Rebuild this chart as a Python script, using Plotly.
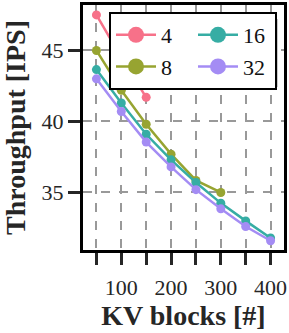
import plotly.graph_objects as go

kv_blocks = [50, 100, 150, 200, 250, 300, 350, 400]
series_names = ["4", "8", "16", "32"]
tput_4 = [47.5, 44.5, 41.7]
tput_8 = [45.0, 42.2, 39.8, 37.7, 35.85, 35.0]
tput_16 = [43.65, 41.3, 39.1, 37.3, 35.7, 34.25, 33.0, 31.8]
tput_32 = [43.0, 40.7, 38.55, 36.8, 35.2, 33.85, 32.6, 31.6]
colors = ["#f77189", "#97a431", "#36ada4", "#a48cf4"]
x_tickvals = [50, 100, 150, 200, 250, 300, 350, 400]
x_ticktext = ["", "100", "", "200", "", "300", "", "400"]
y_tickvals = [35, 40, 45]

FONT = "Liberation Serif"
series = [tput_4, tput_8, tput_16, tput_32]
legend_rank = {"4": 1, "16": 2, "8": 3, "32": 4}

fig = go.Figure()
for name, ys, c in zip(series_names, series, colors):
    fig.add_trace(go.Scatter(
        x=kv_blocks[:len(ys)], y=ys, mode="lines+markers", name=name,
        line=dict(color=c, width=2.5), marker=dict(color=c, size=9),
        showlegend=False))
for name, c in zip(series_names, colors):
    fig.add_trace(go.Scatter(
        x=[None], y=[None], mode="lines+markers", name=name,
        line=dict(color=c, width=2.5), marker=dict(color=c, size=17),
        legendrank=legend_rank[name], showlegend=True))

W, H = 289, 333
L, R, T, B = 83, 5, 5, 83
pw, ph = W - L - R, H - T - B

def px_to_paper(x, y):
    return (x - L) / pw, (H - B - y) / ph

# legend shadow
sx0, sy0 = px_to_paper(113, 87)
sx1, sy1 = px_to_paper(278, 19)
fig.add_shape(type="rect", xref="paper", yref="paper", x0=sx0, y0=sy0, x1=sx1, y1=sy1,
              fillcolor="#bbbbbb", line=dict(width=0), layer="above", opacity=0.8)

lx, ly = px_to_paper(109, 12)

fig.update_layout(
    width=W, height=H,
    margin=dict(l=L, r=R, t=T, b=B, autoexpand=False),
    paper_bgcolor="white", plot_bgcolor="white",
    font=dict(family=FONT, size=22, color="#262626"),
    legend=dict(orientation="h", x=lx, y=ly, xanchor="left", yanchor="top",
                bgcolor="white", bordercolor="black", borderwidth=2,
                font=dict(family=FONT, size=22, color="#111111"),
                entrywidth=27, entrywidthmode="pixels", itemwidth=40,
                tracegroupgap=0, traceorder="normal"),
    xaxis=dict(range=[23, 427], tickvals=x_tickvals, ticktext=x_ticktext,
               showgrid=True, gridcolor="#999999", griddash="dash", gridwidth=1.8,
               showline=True, linecolor="black", linewidth=3, mirror=True,
               ticks="outside", ticklen=12, tickwidth=2.5, tickcolor="#262626",
               ticklabelstandoff=4,
               zeroline=False, automargin=False,
               title=dict(text="<b>KV blocks [#]</b>", font=dict(size=28, color="#262626"), standoff=6)),
    yaxis=dict(range=[30.95, 48.2], tickvals=y_tickvals,
               showgrid=True, gridcolor="#999999", griddash="dash", gridwidth=1.8,
               showline=True, linecolor="black", linewidth=3, mirror=True,
               ticks="outside", ticklen=12, tickwidth=2.5, tickcolor="#262626",
               zeroline=False, automargin=False,
               title=dict(text="<b>Throughput [IPS]</b>", font=dict(size=28, color="#262626"), standoff=9)),
)

fig.write_html("out.html", config={"displayModeBar": False},
               post_script="document.body.style.margin='0';document.body.style.overflow='hidden';")
